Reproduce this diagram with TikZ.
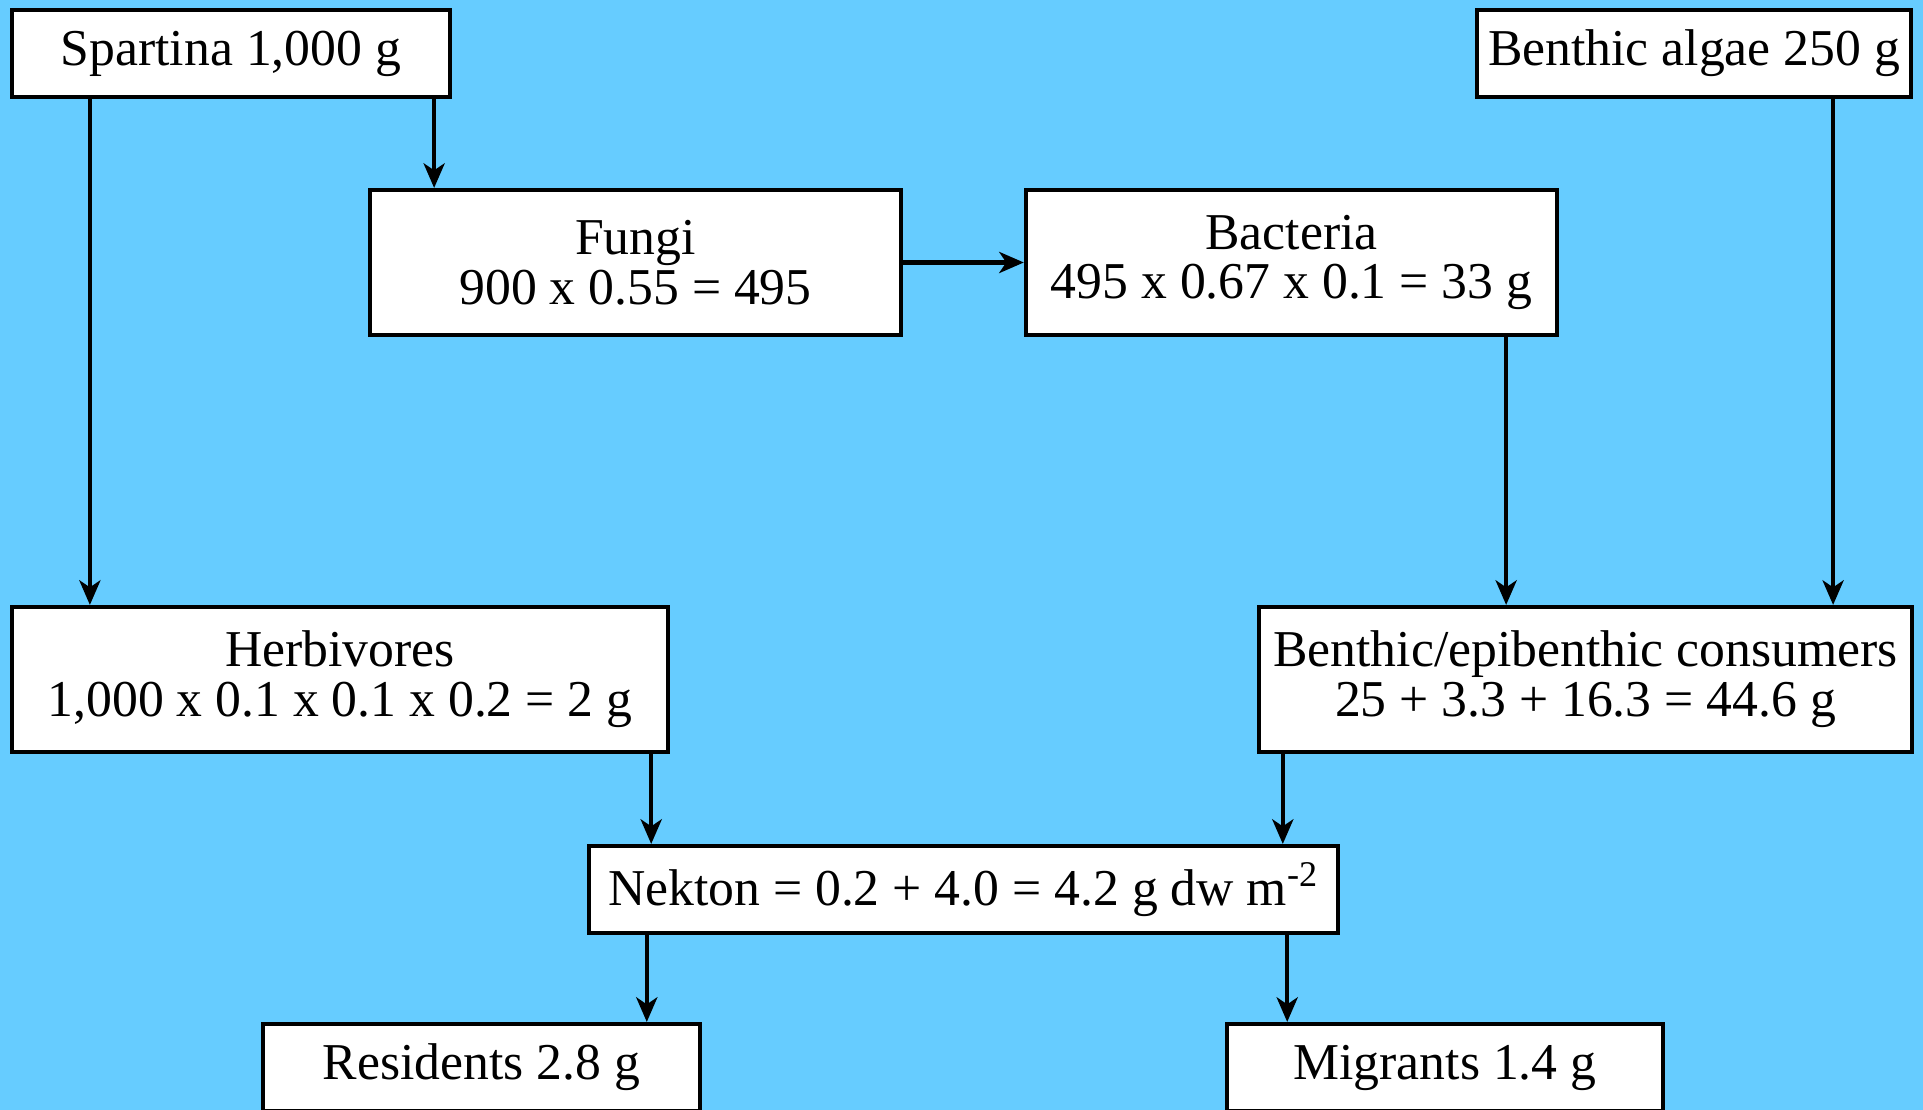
\documentclass[tikz,border=0pt]{standalone}
\usepackage{fontspec}
\setmainfont{Liberation Serif}
\usetikzlibrary{arrows.meta}
\definecolor{skyblue}{RGB}{102,204,255}

\begin{document}
\begin{tikzpicture}[x=0.01cm,y=-0.01cm,
    box/.style={draw,line width=1.15pt,fill=white,inner sep=0pt,align=center,
        font=\fontsize{14.7}{14.2}\selectfont},
    arr/.style={line width=1.15pt,-{Stealth[length=7pt,width=6pt,inset=2pt]}}]
    % Draw background
    \fill[skyblue] (0,0) rectangle (1923,1110);
    \useasboundingbox (0,0) rectangle (1923,1110);
    \clip (0,0) rectangle (1923,1110);

    % Draw producers
    \node[box,minimum width=4.38cm,minimum height=0.87cm] (spartina) at (231,53.5) {Spartina 1,000 g};
    \node[box,minimum width=4.34cm,minimum height=0.87cm] (algae) at (1694,53.5) {Benthic algae 250 g};

    % Draw decomposers
    \node[box,minimum width=5.31cm,minimum height=1.45cm] (fungi) at (635.5,262.5) {Fungi\\900 x 0.55 = 495};
    \node[box,minimum width=5.31cm,minimum height=1.45cm] (bacteria) at (1291.5,262.5) {Bacteria\\495 x 0.67 x 0.1 = 33 g};

    % Draw consumers
    \node[box,minimum width=6.56cm,minimum height=1.45cm] (herb) at (340,679.5) {Herbivores\\1,000 x 0.1 x 0.1 x 0.2 = 2 g};
    \node[box,minimum width=6.53cm,minimum height=1.45cm] (benthic) at (1585.5,679.5) {Benthic/epibenthic consumers\\25 + 3.3 + 16.3 = 44.6 g};

    % Draw nekton
    \node[box,minimum width=7.49cm,minimum height=0.87cm] (nekton) at (963.5,889.5) {Nekton = 0.2 + 4.0 = 4.2 g dw m\textsuperscript{-2}};
    \node[box,minimum width=4.37cm,minimum height=0.87cm] (residents) at (481.5,1067.5) {Residents 2.8 g};
    \node[box,minimum width=4.36cm,minimum height=0.87cm] (migrants) at (1445,1067.5) {Migrants 1.4 g};

    % Draw flows
    \draw[arr] ([xshift=0.8cm]spartina.south west) -- ([xshift=0.8cm]spartina.south west |- herb.north);
    \draw[arr] ([xshift=-0.18cm]spartina.south east) -- ([xshift=-0.18cm]spartina.south east |- fungi.north);
    \draw[arr] (fungi.east) -- (bacteria.west);
    \draw[arr] ([xshift=-0.53cm]bacteria.south east) -- ([xshift=-0.53cm]bacteria.south east |- benthic.north);
    \draw[arr] ([xshift=-0.8cm]algae.south east) -- ([xshift=-0.8cm]algae.south east |- benthic.north);
    \draw[arr] ([xshift=-0.19cm]herb.south east) -- ([xshift=-0.19cm]herb.south east |- nekton.north);
    \draw[arr] ([xshift=0.26cm]benthic.south west) -- ([xshift=0.26cm]benthic.south west |- nekton.north);
    \draw[arr] ([xshift=0.6cm]nekton.south west) -- ([xshift=0.6cm]nekton.south west |- residents.north);
    \draw[arr] ([xshift=-0.53cm]nekton.south east) -- ([xshift=-0.53cm]nekton.south east |- migrants.north);
\end{tikzpicture}
\end{document}
